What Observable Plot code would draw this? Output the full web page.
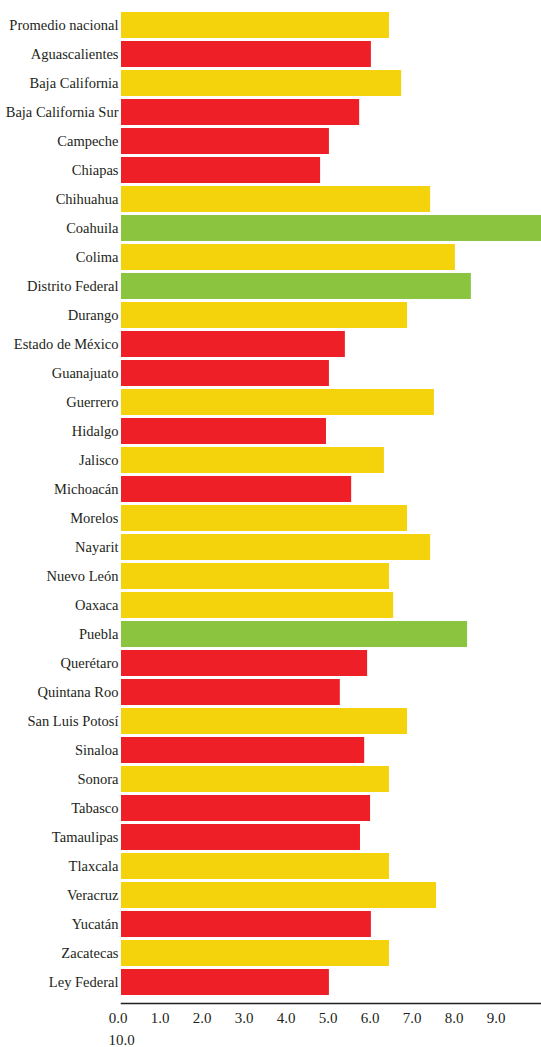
<!DOCTYPE html>
<html>
<head>
<meta charset="utf-8">
<script src="https://cdn.jsdelivr.net/npm/d3@7"></script>
<script src="https://cdn.jsdelivr.net/npm/@observablehq/plot@0.6"></script>
<style>
  html, body { margin: 0; padding: 0; background: #fff; }
  #chart svg { display: block; }
  #chart svg, #chart svg text { font-family: "Liberation Serif", "DejaVu Serif", serif !important; }
</style>
</head>
<body>
<div id="chart"></div>
<script>
const categories = [
  "Promedio nacional", "Aguascalientes", "Baja California", "Baja California Sur",
  "Campeche", "Chiapas", "Chihuahua", "Coahuila", "Colima", "Distrito Federal",
  "Durango", "Estado de México", "Guanajuato", "Guerrero", "Hidalgo", "Jalisco",
  "Michoacán", "Morelos", "Nayarit", "Nuevo León", "Oaxaca", "Puebla", "Querétaro",
  "Quintana Roo", "San Luis Potosí", "Sinaloa", "Sonora", "Tabasco", "Tamaulipas",
  "Tlaxcala", "Veracruz", "Yucatán", "Zacatecas", "Ley Federal"
];
const values = [
  6.38, 5.95, 6.67, 5.67,
  4.95, 4.74, 7.36, 10.0, 7.95, 8.33,
  6.81, 5.33, 4.95, 7.45, 4.88, 6.26,
  5.48, 6.81, 7.36, 6.38, 6.48, 8.24, 5.86,
  5.21, 6.81, 5.79, 6.38, 5.93, 5.69,
  6.38, 7.50, 5.95, 6.38, 4.95
];
const xTicks = [0, 1, 2, 3, 4, 5, 6, 7, 8, 9];
const wrappedTick = ["10.0"];
const thresholds = [6, 8];
const palette = ["#EE1F26", "#F4D20C", "#8BC43F"];

const data = categories.map((name, i) => ({name, value: values[i]}));
const font = "Liberation Serif";

const chart = Plot.plot({
  width: 541,
  height: 1047,
  marginTop: 8,
  marginBottom: 48,
  marginLeft: 121,
  marginRight: 0,
  style: {fontFamily: font, fontSize: "14px", color: "#231f20", background: "#fff"},
  x: {domain: [0, 10], axis: null},
  y: {domain: categories, paddingInner: 0.1, paddingOuter: 0.1, axis: null},
  color: {type: "threshold", domain: thresholds, range: palette},
  marks: [
    Plot.barX(data, {y: "name", x: "value", fill: d => d.value, clip: true}),
    Plot.axisY({tickSize: 0, tickPadding: 3, fontSize: 14.5, fontFamily: font, fill: "#231f20", label: null}),
    Plot.frame({anchor: "bottom", dy: 4, stroke: "#231f20", strokeWidth: 1.5}),
    Plot.axisX({ticks: xTicks, tickFormat: d => d.toFixed(1), tickSize: 0, tickPadding: 13,
                dx: -3.5, fontSize: 15, fontFamily: font, fill: "#231f20", label: null}),
    Plot.text(wrappedTick, {x: 0, frameAnchor: "bottom", text: d => d, textAnchor: "start",
                lineAnchor: "middle", dx: -13, dy: 41, fontSize: 15, fontFamily: font, fill: "#231f20"})
  ]
});
document.getElementById("chart").append(chart);
</script>
</body>
</html>
